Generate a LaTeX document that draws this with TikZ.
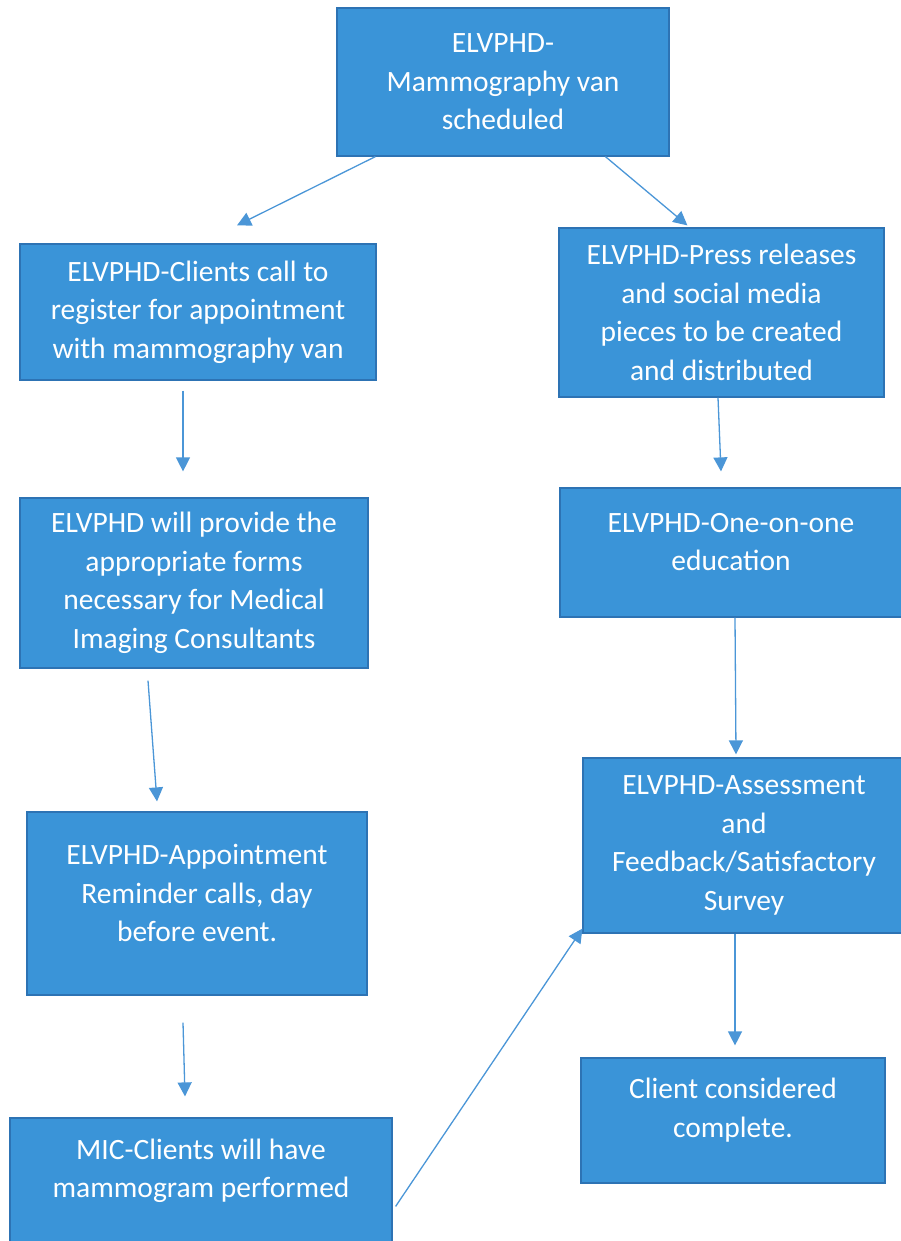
\documentclass[tikz,border=0pt]{standalone}
\usepackage{fontspec}
\setmainfont{Carlito}
\usetikzlibrary{arrows.meta,calc}
\definecolor{boxfill}{RGB}{58,148,216}
\definecolor{boxline}{RGB}{45,115,180}
\definecolor{arrowc}{RGB}{75,150,215}
\begin{document}
\begin{tikzpicture}[x=1pt,y=-1pt,
  box/.style={draw=boxline, line width=1.2pt, fill=boxfill, text=white,
    align=center, font=\fontsize{29.5}{38.5}\selectfont, inner sep=0pt},
  arr/.style={draw=arrowc, line width=1.3pt, -{Triangle[length=14pt,width=14pt]}}]
\useasboundingbox (0,0) rectangle (901,1241);
\node[box, minimum width=332pt, minimum height=148pt] (top) at (503,82)
  {ELVPHD-\\Mammography van\\scheduled};
\node[box, minimum width=356pt, minimum height=136pt] (l1) at (198,312)
  {ELVPHD-Clients call to\\register for appointment\\with mammography van};
\node[box, minimum width=325pt, minimum height=169pt] (r1) at (721.5,312.5)
  {ELVPHD-Press releases\\and social media\\pieces to be created\\and distributed};
\node[box, minimum width=348pt, minimum height=170pt] (l2) at (194,583)
  {ELVPHD will provide the\\appropriate forms\\necessary for Medical\\Imaging Consultants};
\node[box, minimum width=342pt, minimum height=129pt] (r2) at (731,552.5)
  {ELVPHD-One-on-one\\education\par\vspace{21pt}};
\node[box, minimum width=340pt, minimum height=183pt] (l3) at (197,903.5)
  {ELVPHD-Appointment\\Reminder calls, day\\before event.\par\vspace{21pt}};
\node[box, minimum width=322pt, minimum height=175pt] (r3) at (744,845.5)
  {ELVPHD-Assessment\\and\\Feedback/Satisfactory\\Survey};
\node[box, minimum width=304pt, minimum height=125pt] (r4) at (733,1120.5)
  {Client considered\\complete.\par\vspace{21pt}};
\node[box, minimum width=382pt, minimum height=127pt] (l4) at (201,1181.5)
  {MIC-Clients will have\\mammogram performed\par\vspace{21pt}};

\draw[arr] ($(top.south west)+(39,0)$) -- ($(l1.north)+(39,-18)$);
\draw[arr] ($(top.south west)+(269,0)$) -- ($(r1.north west)+(129,-2)$);
\draw[arr] ($(l1.south)+(-15,10)$) -- ($(l2.north)+(-11,-26)$);
\draw[arr] ($(r1.south)+(-3.5,0)$) -- ($(r2.north)+(-10,-16)$);
\draw[arr] ($(l2.south)+(-46,12)$) -- ($(l3.north)+(-40,-10)$);
\draw[arr] ($(r2.south)+(4,0)$) -- ($(r3.north)+(-8,-3)$);
\draw[arr] ($(l3.south)+(-14,27)$) -- ($(l4.north)+(-16,-21)$);
\draw[arr] ($(r3.south)+(-9,0)$) -- ($(r4.north)+(2,-12)$);
\draw[arr] ($(l4.north east)+(3,89)$) -- ($(r3.south west)+(0,-5)$);
\end{tikzpicture}
\end{document}
